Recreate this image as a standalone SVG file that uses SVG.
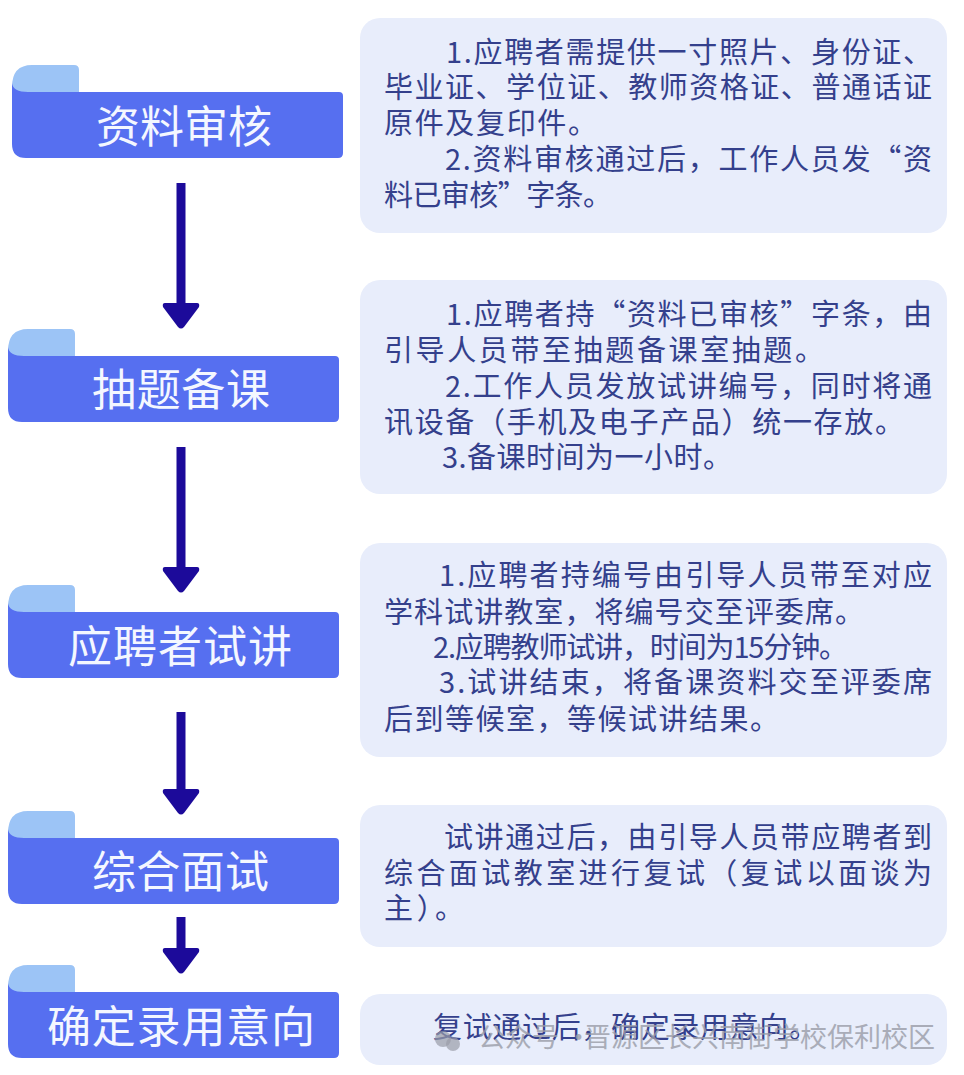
<svg xmlns="http://www.w3.org/2000/svg" width="964" height="1075" viewBox="0 0 964 1075">
<defs>
<g id="ribbon">
<path class="tab" d="M0 22Q0 0 20 0H62Q67 0 67 5V30H16Q0 30 0 20Z"/>
<path class="bar" d="M0 18Q1 27 16 27H327Q331 27 331 31V88Q331 93 326 93H14Q0 93 0 79Z"/>
</g>
<path id="head" d="M-16 0H16Q19 0 18 4L3 24Q0 27-3 24L-18 4Q-19 0-16 0Z"/>
</defs>
<style>
.tab{fill:#9cc4f6}
.bar{fill:#566ff0}
.panel{fill:#e8edfb}
.title{font-family:"Noto Sans CJK SC","Liberation Sans",sans-serif;font-size:44px;fill:#f4f7ff}
.body{font-family:"Noto Sans CJK SC","Liberation Sans",sans-serif;font-size:29px;fill:#34408c}
.wm{font-family:"Noto Sans CJK SC","Liberation Sans",sans-serif;font-size:27px;fill:#9a9da8;opacity:.8}
.shaft{stroke:#1c0a9a;stroke-width:9;fill:none}
.ah{fill:#1c0a9a}
</style>
<rect width="964" height="1075" fill="#fff"/>
<g id="connectors">
<path class="shaft" d="M181 183V306"/><use href="#head" class="ah" x="181" y="303"/>
<path class="shaft" d="M181 447V570"/><use href="#head" class="ah" x="181" y="567"/>
<path class="shaft" d="M181 712V792"/><use href="#head" class="ah" x="181" y="789"/>
<path class="shaft" d="M181 917V951"/><use href="#head" class="ah" x="181" y="948"/>
</g>
<g id="node1">
<use href="#ribbon" x="12" y="65"/>
<text class="title" x="96" y="143" textLength="176">资料审核</text>
</g>
<g id="node2">
<use href="#ribbon" x="8" y="329"/>
<text class="title" x="92" y="406" textLength="178">抽题备课</text>
</g>
<g id="node3">
<use href="#ribbon" x="8" y="585"/>
<text class="title" x="68" y="663" textLength="224">应聘者试讲</text>
</g>
<g id="node4">
<use href="#ribbon" x="8" y="811"/>
<text class="title" x="92" y="888" textLength="177">综合面试</text>
</g>
<g id="node5">
<use href="#ribbon" x="8" y="965"/>
<text class="title" x="47" y="1043" textLength="268">确定录用意向</text>
</g>
<g id="panel1">
<rect class="panel" x="360" y="18" width="587" height="215" rx="20"/>
<text class="body" x="446" y="63" textLength="486">1.应聘者需提供一寸照片、身份证、</text>
<text class="body" x="384" y="98" textLength="548">毕业证、学位证、教师资格证、普通话证</text>
<text class="body" x="384" y="134" textLength="213">原件及复印件。</text>
<text class="body" x="445" y="170" textLength="487">2.资料审核通过后，工作人员发“资</text>
<text class="body" x="384" y="206" textLength="228">料已审核”字条。</text>
</g>
<g id="panel2">
<rect class="panel" x="360" y="280" width="587" height="214" rx="20"/>
<text class="body" x="446" y="325" textLength="486">1.应聘者持“资料已审核”字条，由</text>
<text class="body" x="384" y="361" textLength="440">引导人员带至抽题备课室抽题。</text>
<text class="body" x="445" y="397" textLength="487">2.工作人员发放试讲编号，同时将通</text>
<text class="body" x="384" y="433" textLength="520">讯设备（手机及电子产品）统一存放。</text>
<text class="body" x="442" y="468" textLength="290">3.备课时间为一小时。</text>
</g>
<g id="panel3">
<rect class="panel" x="360" y="543" width="587" height="214" rx="20"/>
<text class="body" x="439" y="586" textLength="493">1.应聘者持编号由引导人员带至对应</text>
<text class="body" x="384" y="623" textLength="480">学科试讲教室，将编号交至评委席。</text>
<text class="body" x="433" y="658" textLength="415">2.应聘教师试讲，时间为15分钟。</text>
<text class="body" x="439" y="693" textLength="493">3.试讲结束，将备课资料交至评委席</text>
<text class="body" x="384" y="730" textLength="395">后到等候室，等候试讲结果。</text>
</g>
<g id="panel4">
<rect class="panel" x="360" y="805" width="587" height="142" rx="20"/>
<text class="body" x="444" y="848" textLength="488">试讲通过后，由引导人员带应聘者到</text>
<text class="body" x="384" y="884" textLength="548">综合面试教室进行复试（复试以面谈为</text>
<text class="body" x="384" y="919" textLength="80">主）。</text>
</g>
<g id="panel5">
<rect class="panel" x="360" y="994" width="587" height="71" rx="20"/>
<text class="body" x="433" y="1038" textLength="385">复试通过后，确定录用意向。</text>
</g>
<g id="watermark">
<circle cx="443" cy="1039" r="8" fill="#9a9da8" opacity=".7"/>
<circle cx="453" cy="1044" r="7" fill="#9a9da8" opacity=".7"/>
<text class="wm" y="1047"><tspan x="478">公众号 ·</tspan> <tspan x="584">晋源区长兴南街学校保利校区</tspan></text>
</g>
</svg>
